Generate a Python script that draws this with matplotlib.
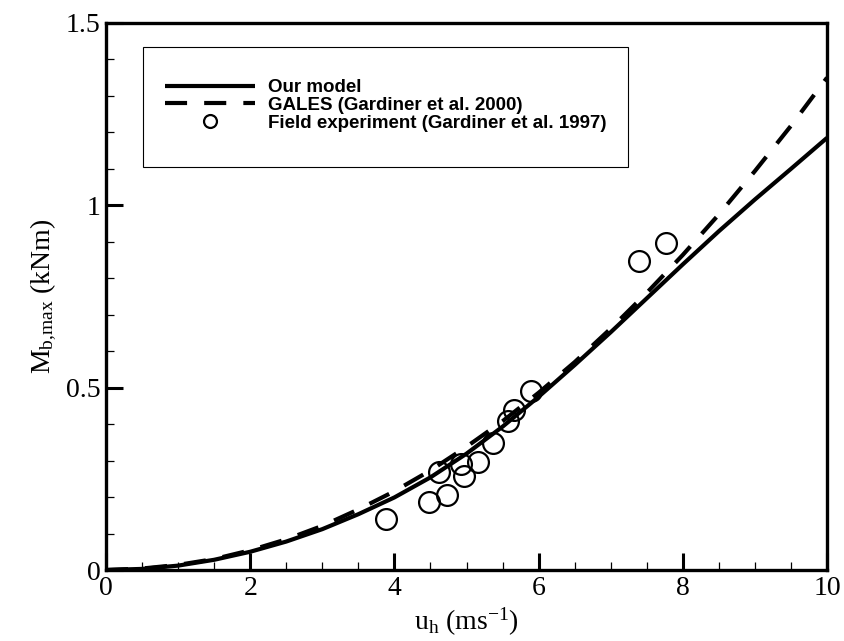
import matplotlib
matplotlib.use("Agg")
import matplotlib.pyplot as plt
from matplotlib.patches import Rectangle
from matplotlib.ticker import MultipleLocator, FuncFormatter

# ---- data ----
model_x = [0, 0.5, 1, 1.5, 2, 2.5, 3, 3.5, 4, 4.5, 5, 5.5, 6, 6.5, 7, 7.5, 8, 8.5, 9, 9.5, 10]
model_y = [0, 0.003, 0.012, 0.028, 0.050, 0.078, 0.112, 0.153, 0.199, 0.254, 0.319,
           0.393, 0.475, 0.562, 0.652, 0.745, 0.838, 0.929, 1.016, 1.100, 1.185]
gales_x = [0, 0.5, 1, 1.5, 2, 2.5, 3, 3.5, 4, 4.5, 5, 5.5, 6, 6.5, 7, 7.5, 8, 8.5, 9, 9.5, 10]
gales_y = [0, 0.004, 0.014, 0.030, 0.054, 0.084, 0.121, 0.166, 0.216, 0.273, 0.338,
           0.408, 0.486, 0.570, 0.662, 0.760, 0.864, 0.975, 1.094, 1.218, 1.35]
field_x = [3.89, 4.48, 4.62, 4.73, 4.93, 4.96, 5.16, 5.37, 5.58, 5.66, 5.90, 7.39, 7.77]
field_y = [0.139, 0.187, 0.269, 0.207, 0.292, 0.258, 0.297, 0.349, 0.409, 0.438, 0.490, 0.847, 0.898]
labels = ["Our model", "GALES (Gardiner et al. 2000)", "Field experiment (Gardiner et al. 1997)"]

plt.rcParams['mathtext.fontset'] = 'custom'
plt.rcParams['mathtext.rm'] = 'Liberation Serif'
plt.rcParams['mathtext.it'] = 'Liberation Serif'

W, H = 845, 641
fig = plt.figure(figsize=(W / 100, H / 100), dpi=100)
ax = fig.add_axes([106 / W, 1 - 570 / H, (827 - 106) / W, (570 - 23) / H])

l1, = ax.plot(model_x, model_y, color='black', lw=3, solid_capstyle='butt', solid_joinstyle='round')
l2, = ax.plot(gales_x, gales_y, color='black', lw=3, dashes=(5.3, 4.1), dash_capstyle='butt')
l3, = ax.plot(field_x, field_y, linestyle='none', marker='o', markersize=15,
              markerfacecolor='none', markeredgecolor='black', markeredgewidth=1.6)

ax.set_xlim(0, 10)
ax.set_ylim(0, 1.5)
ax.xaxis.set_major_locator(MultipleLocator(2))
ax.xaxis.set_minor_locator(MultipleLocator(0.5))
ax.yaxis.set_major_locator(MultipleLocator(0.5))
ax.yaxis.set_minor_locator(MultipleLocator(0.1))
ax.tick_params(which='major', direction='in', length=12, width=2.2, labelsize=20, pad=4)
ax.tick_params(which='minor', direction='in', length=6, width=0.9)
ax.tick_params(top=False, right=False, which='both')
ax.xaxis.set_major_formatter(FuncFormatter(lambda v, p: f"{v:g}"))
ax.yaxis.set_major_formatter(FuncFormatter(lambda v, p: f"{v:g}"))
for lab in ax.get_xticklabels() + ax.get_yticklabels():
    lab.set_fontfamily('Liberation Serif')
for s in ax.spines.values():
    s.set_linewidth(2.4)

ax.set_xlabel(r'$\mathrm{u_h\ (ms^{-1})}$', fontsize=20, labelpad=4)
ax.set_ylabel(r'$\mathrm{M_{b{,}max}\ (kNm)}$', fontsize=20, labelpad=5)

# legend
leg = fig.legend([l1, l2, l3], labels, loc='upper left',
                 bbox_to_anchor=(165 / W, 1 - 79 / H), frameon=False,
                 prop={'family': 'Liberation Sans', 'weight': 'bold', 'size': 13.5},
                 handlelength=4.8, handletextpad=0.68, labelspacing=0.04,
                 borderpad=0, borderaxespad=0, markerscale=0.62)
fig.canvas.draw()
bb = leg.get_window_extent()
right = bb.x1 + 22
fig.patches.append(Rectangle((143 / W, 1 - 167 / H), (right - 143) / W, (167 - 47) / H,
                             transform=fig.transFigure, fill=False, edgecolor='black', lw=0.8))

fig.savefig('out.png', dpi=100)
